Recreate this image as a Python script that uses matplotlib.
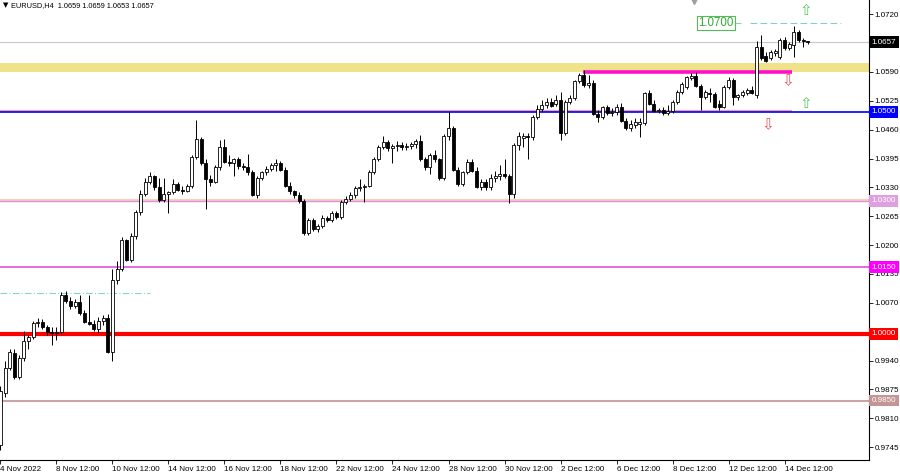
import matplotlib.pyplot as plt
import matplotlib.transforms as mtransforms

# EURUSD H4 candles, 4 Nov 2022 12:00 .. 14 Dec 2022
opens = [0.9750, 0.9868, 0.9924, 0.9958, 0.9904, 0.9945, 0.9985, 0.9994, 1.0025, 1.0027,
         1.0016, 1.0005, 1.0003, 1.0005, 1.0088, 1.0075, 1.0063, 1.0072, 1.0048, 1.0027,
         1.0023, 1.0012, 1.0030, 1.0036, 0.9960, 1.0122, 1.0146, 1.0211, 1.0166, 1.0220,
         1.0274, 1.0314, 1.0343, 1.0355, 1.0330, 1.0301, 1.0314, 1.0319, 1.0337, 1.0325,
         1.0321, 1.0334, 1.0399, 1.0440, 1.0386, 1.0348, 1.0343, 1.0375, 1.0422, 1.0388,
         1.0384, 1.0395, 1.0379, 1.0377, 1.0364, 1.0312, 1.0350, 1.0364, 1.0372, 1.0381,
         1.0386, 1.0370, 1.0332, 1.0321, 1.0312, 1.0299, 1.0227, 1.0256, 1.0236, 1.0243,
         1.0260, 1.0256, 1.0272, 1.0263, 1.0296, 1.0303, 1.0312, 1.0328, 1.0330, 1.0334,
         1.0364, 1.0395, 1.0422, 1.0433, 1.0419, 1.0424, 1.0426, 1.0422, 1.0424, 1.0428,
         1.0435, 1.0395, 1.0375, 1.0404, 1.0393, 1.0350, 1.0446, 1.0464, 1.0370, 1.0337,
         1.0364, 1.0388, 1.0366, 1.0330, 1.0341, 1.0330, 1.0352, 1.0355, 1.0359, 1.0355,
         1.0314, 1.0426, 1.0442, 1.0446, 1.0444, 1.0489, 1.0507, 1.0516, 1.0522, 1.0518,
         1.0527, 1.0453, 1.0522, 1.0531, 1.0570, 1.0583, 1.0561, 1.0565, 1.0496, 1.0489,
         1.0511, 1.0498, 1.0500, 1.0511, 1.0480, 1.0464, 1.0471, 1.0473, 1.0475, 1.0543,
         1.0518, 1.0502, 1.0505, 1.0498, 1.0502, 1.0522, 1.0545, 1.0556, 1.0576, 1.0581,
         1.0558, 1.0534, 1.0543, 1.0540, 1.0518, 1.0511, 1.0556, 1.0572, 1.0534, 1.0538,
         1.0543, 1.0549, 1.0538, 1.0646, 1.0626, 1.0621, 1.0632, 1.0623, 1.0661, 1.0643,
         1.0650, 1.0679, 1.0661, 1.0659]
highs = [0.9882, 0.9938, 0.9967, 0.9965, 0.9953, 1.0007, 0.9998, 1.0030, 1.0036, 1.0034,
         1.0021, 1.0016, 1.0016, 1.0095, 1.0097, 1.0083, 1.0079, 1.0088, 1.0054, 1.0088,
         1.0032, 1.0039, 1.0043, 1.0045, 1.0146, 1.0164, 1.0218, 1.0213, 1.0227, 1.0278,
         1.0325, 1.0350, 1.0364, 1.0357, 1.0352, 1.0350, 1.0321, 1.0348, 1.0343, 1.0334,
         1.0337, 1.0404, 1.0482, 1.0444, 1.0393, 1.0357, 1.0381, 1.0437, 1.0440, 1.0402,
         1.0397, 1.0399, 1.0386, 1.0406, 1.0370, 1.0355, 1.0366, 1.0379, 1.0386, 1.0393,
         1.0390, 1.0375, 1.0341, 1.0325, 1.0319, 1.0303, 1.0260, 1.0260, 1.0247, 1.0267,
         1.0265, 1.0276, 1.0276, 1.0301, 1.0310, 1.0319, 1.0332, 1.0348, 1.0337, 1.0370,
         1.0399, 1.0426, 1.0446, 1.0437, 1.0428, 1.0435, 1.0433, 1.0431, 1.0433, 1.0440,
         1.0449, 1.0399, 1.0408, 1.0415, 1.0397, 1.0451, 1.0500, 1.0469, 1.0375, 1.0366,
         1.0393, 1.0393, 1.0375, 1.0348, 1.0348, 1.0359, 1.0366, 1.0381, 1.0393, 1.0361,
         1.0431, 1.0455, 1.0453, 1.0453, 1.0493, 1.0516, 1.0527, 1.0531, 1.0531, 1.0538,
         1.0545, 1.0527, 1.0538, 1.0572, 1.0587, 1.0594, 1.0583, 1.0572, 1.0505, 1.0514,
         1.0516, 1.0509, 1.0518, 1.0520, 1.0487, 1.0482, 1.0487, 1.0487, 1.0545, 1.0549,
         1.0527, 1.0509, 1.0511, 1.0516, 1.0527, 1.0549, 1.0567, 1.0581, 1.0587, 1.0590,
         1.0563, 1.0549, 1.0554, 1.0545, 1.0527, 1.0561, 1.0579, 1.0576, 1.0540, 1.0549,
         1.0554, 1.0558, 1.0659, 1.0673, 1.0635, 1.0639, 1.0641, 1.0666, 1.0668, 1.0657,
         1.0693, 1.0684, 1.0666, 1.0659]
lows = [0.9739, 0.9859, 0.9918, 0.9898, 0.9898, 0.9940, 0.9967, 0.9989, 1.0016, 1.0012,
        0.9998, 0.9974, 0.9987, 1.0001, 1.0070, 1.0057, 1.0059, 1.0043, 1.0025, 1.0019,
        1.0007, 1.0001, 1.0021, 0.9956, 0.9938, 1.0113, 1.0142, 1.0164, 1.0162, 1.0213,
        1.0267, 1.0310, 1.0337, 1.0325, 1.0296, 1.0296, 1.0272, 1.0314, 1.0321, 1.0316,
        1.0319, 1.0328, 1.0393, 1.0381, 1.0281, 1.0334, 1.0339, 1.0370, 1.0384, 1.0379,
        1.0355, 1.0372, 1.0370, 1.0357, 1.0310, 1.0305, 1.0346, 1.0357, 1.0366, 1.0368,
        1.0366, 1.0330, 1.0316, 1.0305, 1.0294, 1.0222, 1.0222, 1.0231, 1.0229, 1.0238,
        1.0251, 1.0251, 1.0258, 1.0258, 1.0292, 1.0299, 1.0307, 1.0321, 1.0296, 1.0330,
        1.0359, 1.0390, 1.0417, 1.0413, 1.0384, 1.0411, 1.0415, 1.0415, 1.0417, 1.0419,
        1.0390, 1.0370, 1.0361, 1.0388, 1.0346, 1.0346, 1.0437, 1.0366, 1.0334, 1.0332,
        1.0359, 1.0364, 1.0328, 1.0325, 1.0325, 1.0325, 1.0343, 1.0346, 1.0350, 1.0294,
        1.0307, 1.0415, 1.0422, 1.0393, 1.0437, 1.0484, 1.0502, 1.0509, 1.0511, 1.0514,
        1.0437, 1.0449, 1.0518, 1.0527, 1.0565, 1.0556, 1.0554, 1.0493, 1.0478, 1.0484,
        1.0493, 1.0491, 1.0493, 1.0478, 1.0460, 1.0458, 1.0464, 1.0444, 1.0471, 1.0516,
        1.0500, 1.0498, 1.0493, 1.0493, 1.0498, 1.0518, 1.0540, 1.0552, 1.0572, 1.0556,
        1.0505, 1.0529, 1.0522, 1.0509, 1.0505, 1.0509, 1.0552, 1.0516, 1.0527, 1.0534,
        1.0538, 1.0540, 1.0531, 1.0617, 1.0612, 1.0617, 1.0626, 1.0619, 1.0639, 1.0639,
        1.0623, 1.0657, 1.0646, 1.0653]
closes = [0.9871, 0.9924, 0.9960, 0.9904, 0.9945, 0.9985, 0.9994, 1.0025, 1.0027, 1.0016,
          1.0005, 1.0003, 1.0005, 1.0088, 1.0075, 1.0063, 1.0072, 1.0048, 1.0027, 1.0023,
          1.0012, 1.0030, 1.0036, 0.9960, 1.0122, 1.0146, 1.0211, 1.0166, 1.0220, 1.0274,
          1.0314, 1.0343, 1.0355, 1.0330, 1.0301, 1.0314, 1.0319, 1.0337, 1.0325, 1.0321,
          1.0334, 1.0399, 1.0440, 1.0386, 1.0348, 1.0343, 1.0375, 1.0422, 1.0388, 1.0384,
          1.0395, 1.0379, 1.0377, 1.0364, 1.0312, 1.0350, 1.0364, 1.0372, 1.0381, 1.0386,
          1.0370, 1.0332, 1.0321, 1.0312, 1.0299, 1.0227, 1.0256, 1.0236, 1.0243, 1.0260,
          1.0256, 1.0272, 1.0263, 1.0296, 1.0303, 1.0312, 1.0328, 1.0330, 1.0334, 1.0364,
          1.0395, 1.0422, 1.0433, 1.0419, 1.0424, 1.0426, 1.0422, 1.0424, 1.0428, 1.0435,
          1.0395, 1.0375, 1.0404, 1.0393, 1.0350, 1.0446, 1.0464, 1.0370, 1.0337, 1.0364,
          1.0388, 1.0366, 1.0330, 1.0341, 1.0330, 1.0352, 1.0355, 1.0359, 1.0355, 1.0314,
          1.0426, 1.0446, 1.0446, 1.0444, 1.0489, 1.0507, 1.0516, 1.0522, 1.0514, 1.0527,
          1.0453, 1.0522, 1.0531, 1.0570, 1.0583, 1.0561, 1.0565, 1.0496, 1.0489, 1.0511,
          1.0498, 1.0500, 1.0511, 1.0480, 1.0464, 1.0473, 1.0478, 1.0478, 1.0543, 1.0518,
          1.0502, 1.0505, 1.0498, 1.0502, 1.0522, 1.0545, 1.0563, 1.0579, 1.0581, 1.0558,
          1.0534, 1.0545, 1.0540, 1.0511, 1.0511, 1.0556, 1.0572, 1.0534, 1.0538, 1.0545,
          1.0549, 1.0543, 1.0646, 1.0621, 1.0614, 1.0635, 1.0637, 1.0661, 1.0643, 1.0652,
          1.0679, 1.0661, 1.0659, 1.0657]

date_labels = ['4 Nov 2022', '8 Nov 12:00', '10 Nov 12:00', '14 Nov 12:00', '16 Nov 12:00',
               '18 Nov 12:00', '22 Nov 12:00', '24 Nov 12:00', '28 Nov 12:00', '30 Nov 12:00',
               '2 Dec 12:00', '6 Dec 12:00', '8 Dec 12:00', '12 Dec 12:00', '14 Dec 12:00']
# 1.0005 sits under the 1.0000 box, so its tick keeps no label
price_ticks = [0.9745, 0.9810, 0.9875, 0.9940, 1.0005, 1.0070, 1.0135, 1.0200, 1.0265,
               1.0330, 1.0395, 1.0460, 1.0525, 1.0590, 1.0720]
hidden_ticks = [1.0005]
# (price, box colour) for the coloured labels on the price scale
levels = [(1.0657, 'black'), (1.0500, '#0000ff'), (1.0300, '#dfa0df'),
          (1.0150, '#ff00ff'), (1.0000, '#ff0000'), (0.9850, '#c39595')]

plt.rcParams['font.family'] = ['Liberation Sans', 'DejaVu Sans']
fs = 5.8

fig = plt.figure(figsize=(9, 4.72), dpi=100)
ax = fig.add_axes([0, 12 / 472, 869 / 900, 460 / 472])
ax.set_xlim(-0.1, 186.1)
ax.set_ylim(0.9716, 1.0752)

# support / resistance levels
ax.axhspan(1.0590, 1.0611, color='#f0e28a', lw=0, zorder=1)
ax.axhline(1.0657, color='#c8c8c8', lw=0.8, zorder=1)
ax.hlines(1.05025, -0.1, 169.6, color='#f4a0a0', lw=1.6, zorder=1)
ax.axhline(1.0500, color='#0000ff', lw=1.2, zorder=1)
ax.axhline(1.03015, color='#f6d2b8', lw=1.6, zorder=1)
ax.axhline(1.0300, color='#e090e0', lw=1.0, zorder=1)
ax.axhline(1.0150, color='#e050e0', lw=1.2, zorder=1)
ax.axhline(1.0000, color='#ff0000', lw=3.0, zorder=1)
ax.axhline(0.9850, color='#c89a9a', lw=1.3, zorder=1)
ax.hlines(1.0092, -0.1, 32, color='#80d4d4', lw=0.8, linestyles=(0, (6, 2, 1, 2)), zorder=1)
ax.hlines(1.0590, 124.8, 169.6, color='#ff10c8', lw=2.6, zorder=2)
ax.hlines(1.0700, 160.6, 180, color='#80d0d0', lw=0.8, linestyles=(0, (6, 3)), zorder=2)
ax.hlines(1.0700, 157.4, 158.6, color='#80d0d0', lw=0.8, zorder=2)

# candles
for i in range(len(closes)):
    o, h, l, c = opens[i], highs[i], lows[i], closes[i]
    ax.vlines(i, l, h, color='black', lw=0.7, zorder=3)
    fc = 'white' if c >= o else 'black'
    ax.bar(i, abs(c - o), bottom=min(o, c), width=0.64, color=fc,
           edgecolor='black', linewidth=0.6, zorder=4)

# annotations
ax.text(153.3, 1.0700, '1.0700', color='#33aa33', fontsize=8.3, ha='center', va='center',
        bbox=dict(boxstyle='square,pad=0.12', fc='white', ec='#55bb55', lw=0.8), zorder=6)
arrow_font = dict(fontsize=11, family='DejaVu Sans', ha='center', va='center', zorder=6)
ax.text(172.6, 1.0729, '\u21e7', color='#5cc85c', **arrow_font)
ax.text(168.7, 1.0570, '\u21e9', color='#e85050', **arrow_font)
ax.text(172.6, 1.0518, '\u21e7', color='#5cc85c', **arrow_font)
ax.text(164.5, 1.0471, '\u21e9', color='#e85050', **arrow_font)
ax.plot([148.6], [1.0750], marker='v', color='#a0a0a0', ms=5, clip_on=False, zorder=6)

ax.text(0.004, 0.988, '\u25bc', transform=ax.transAxes, fontsize=5, va='center',
        family='DejaVu Sans')
ax.text(0.013, 0.988, 'EURUSD,H4  1.0659 1.0659 1.0653 1.0657', transform=ax.transAxes,
        fontsize=5.3, va='center')

# axes styling
for s in ['left', 'top']:
    ax.spines[s].set_visible(False)
for s in ['right', 'bottom']:
    ax.spines[s].set_linewidth(0.8)
ax.yaxis.tick_right()
ax.set_yticks(price_ticks)
ax.set_yticklabels(['' if p in hidden_ticks else '%.4f' % p for p in price_ticks])
ax.tick_params(axis='y', length=3, width=0.6, pad=1, labelsize=fs)
ax.set_xticks(range(0, 169, 12))
ax.set_xticklabels(date_labels, ha='left')
ax.tick_params(axis='x', length=3, width=0.6, pad=1, labelsize=fs)

trans = mtransforms.blended_transform_factory(ax.transAxes, ax.transData)
for price, col in levels:
    ax.text(1.003, price, '%.4f' % price, transform=trans, ha='left', va='center',
            color='white', fontsize=fs, clip_on=False, zorder=10,
            bbox=dict(boxstyle='square,pad=0.3', fc=col, ec='none'))

plt.savefig('out.png', dpi=100)
